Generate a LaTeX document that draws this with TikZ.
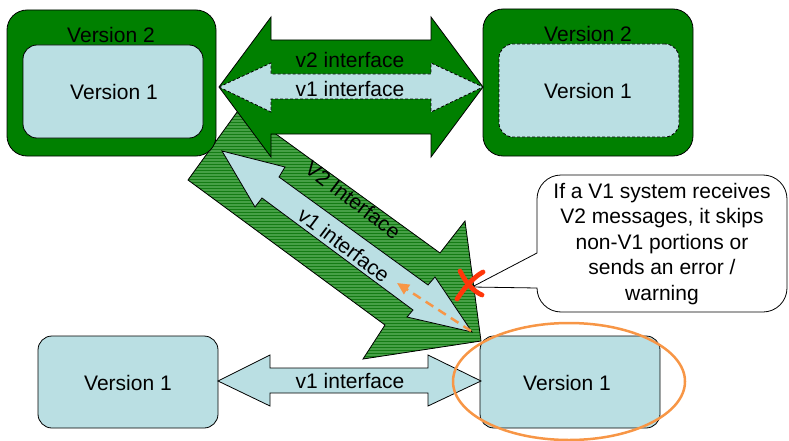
\documentclass[tikz,border=0pt]{standalone}
\usepackage{fontspec}
\setmainfont{Liberation Sans}
\usetikzlibrary{arrows.meta,shapes.geometric}
\definecolor{gdark}{RGB}{0,128,0}
\definecolor{lblue}{RGB}{186,223,227}
\definecolor{hatchbg}{RGB}{20,124,20}
\definecolor{hatchfg}{RGB}{70,160,70}
\definecolor{orangec}{RGB}{247,150,70}
\definecolor{redx}{RGB}{255,55,10}
\tikzset{
  outline/.style={draw=black, line width=0.8pt},
  outerbox/.style={rectangle, rounded corners=20pt, fill=gdark, outline, inner sep=0pt},
  innerbox/.style={rectangle, rounded corners=14pt, fill=lblue, outline, inner sep=0pt},
  dashbox/.style={innerbox, dash pattern=on 3pt off 2pt},
  greenarrow/.style={fill=gdark, outline},
  bluearrow/.style={fill=lblue, outline},
  dasharrow/.style={fill=lblue, outline, dash pattern=on 3pt off 2pt},
  stripe/.style={draw=hatchfg, line width=1.3pt},
  txt/.style={font=\fontsize{21}{25.5}\selectfont, inner sep=0pt},
  xstroke/.style={draw=redx, line width=4.8pt, line cap=round},
}
\begin{document}
\begin{tikzpicture}[x=1pt,y=-1pt]
\useasboundingbox (0,0) rectangle (789,441);
% diagonal hatched arrow (behind)
\coordinate (d1) at (240,108);
\coordinate (d2) at (440,253);
\coordinate (d3) at (465,221);
\coordinate (d4) at (481,341);
\coordinate (d5) at (363,359);
\coordinate (d6) at (385,325);
\coordinate (d7) at (188,180);
\fill[hatchbg] (d1) -- (d2) -- (d3) -- (d4) -- (d5) -- (d6) -- (d7) -- cycle;
\begin{scope}
\clip (d1) -- (d2) -- (d3) -- (d4) -- (d5) -- (d6) -- (d7) -- cycle;
\foreach \yy in {100,103,...,370} {\draw[stripe] (180,\yy) -- (490,\yy);}
\end{scope}
\draw[outline] (d1) -- (d2) -- (d3) -- (d4) -- (d5) -- (d6) -- (d7) -- cycle;
% top-left boxes
\node[outerbox, minimum width=209pt, minimum height=146pt] (tlo) at (111.5,83) {};
\node[innerbox, minimum width=180pt, minimum height=93pt] (tli) at (113,91.5) {};
\node[txt] (tlv2) at (111,35) {Version 2};
\node[txt] (tlv1) at (114,92) {Version 1};
% top-right boxes
\node[outerbox, minimum width=210pt, minimum height=147pt] (tro) at (588,82.5) {};
\node[dashbox, minimum width=180pt, minimum height=93pt] (tri) at (589,90.5) {};
\node[txt] (trv2) at (588,34) {Version 2};
\node[txt] (trv1) at (588,91) {Version 1};
% top double arrow
\path[greenarrow] (219,87) -- (271,17) -- (271,40) -- (431,40) -- (431,17) -- (483,87) -- (431,157) -- (431,134) -- (271,134) -- (271,157) -- cycle;
\path[dasharrow] (219,87) -- (271,63) -- (271,74) -- (431,74) -- (431,63) -- (483,87) -- (431,112) -- (431,99) -- (271,99) -- (271,112) -- cycle;
\node[txt] (v2top) at (350,60) {v2 interface};
\node[txt] (v1top) at (350,89) {v1 interface};
% diagonal light arrow
\path[bluearrow] (222,151) -- (285,167) -- (279,177) -- (428,285) -- (435,277) -- (472,332) -- (407,317) -- (413,310) -- (262,198) -- (255,207) -- cycle;
\node[txt, rotate=-37] (v2diag) at (353,200) {V2 Interface};
\node[txt, rotate=-37] (v1diag) at (344,245) {v1 interface};
% bottom boxes
\node[innerbox, minimum width=180pt, minimum height=92pt] (bl) at (128,382) {};
\node[txt] (blv1) at (128,383) {Version 1};
\node[innerbox, minimum width=180pt, minimum height=92pt] (br) at (570,382) {};
\node[txt] (brv1) at (567,383) {Version 1};
% bottom arrow
\path[bluearrow] (218,381) -- (270,355) -- (270,368) -- (428,368) -- (428,355) -- (481,381) -- (428,406) -- (428,393) -- (270,393) -- (270,406) -- cycle;
\node[txt] (v1bot) at (350,381) {v1 interface};
% orange ellipse
\node[ellipse, draw=orangec, line width=2.5pt, minimum width=232pt, minimum height=117pt, inner sep=0pt] (ell) at (569,381.5) {};
% orange dashed arrow
\coordinate (oa) at (471,331);
\coordinate (ob) at (397,283);
\draw[orangec, line width=2.5pt, dash pattern=on 9pt off 6pt, -{Triangle[length=12pt,width=11pt]}] (oa) -- (ob);
% callout
\coordinate (xc) at (472,287);
\path[fill=white, outline] (537,253) [rounded corners=24pt] -- (537,175) -- (787,175) -- (787,312) -- (537,312) [sharp corners] -- (537,288) -- (xc) -- cycle;
\node[txt, align=center] (callout) at (662,244) {If a V1 system receives\\V2 messages, it skips\\non-V1 portions or\\sends an error /\\warning};
% red X
\draw[xstroke] (460,271) .. controls (466,283) and (473,291) .. (482,295);
\draw[xstroke] (483,272) .. controls (472,278) and (463,290) .. (457,299);
\end{tikzpicture}
\end{document}
